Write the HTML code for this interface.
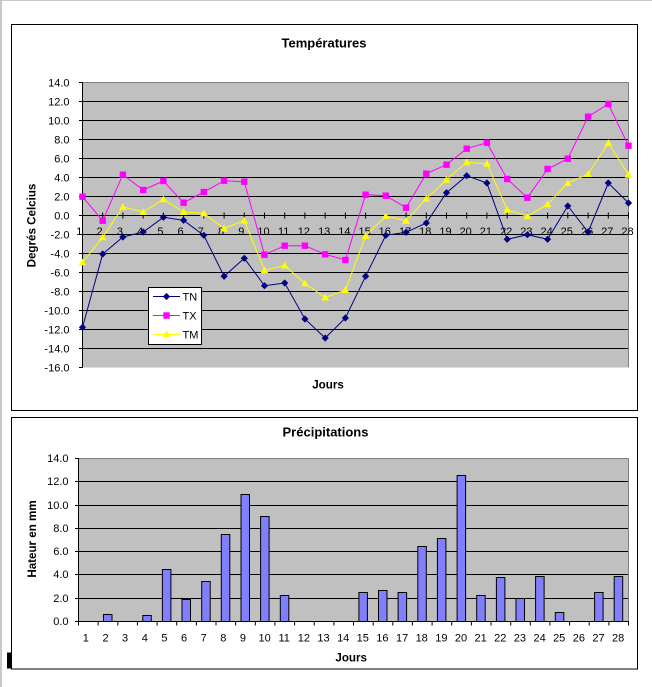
<!DOCTYPE html>
<html><head><meta charset="utf-8"><style>
html,body{margin:0;padding:0;background:#fff;}
svg{display:block;}
text{font-family:"Liberation Sans",Arial,sans-serif;fill:#000;}
</style></head><body>
<svg width="652" height="687" viewBox="0 0 652 687" xmlns="http://www.w3.org/2000/svg">
<defs>
<path id="dia" d="M0,-3.6 L3.6,0 L0,3.6 L-3.6,0Z" fill="#000080"/>
<rect id="sq" x="-3.2" y="-3.2" width="6.4" height="6.4" fill="#FF00FF"/>
<path id="tri" d="M0,-3.8 L3.8,3 L-3.8,3Z" fill="#FFFF00"/>
</defs>
<rect x="0" y="0" width="652" height="687" fill="#fff"/>
<rect x="0" y="0" width="652" height="1" fill="#c8c8c8"/>
<rect x="0" y="0" width="2" height="687" fill="#c8c8c8"/>

<!-- ============ TOP CHART ============ -->
<rect x="11.5" y="24.5" width="626" height="386" fill="#fff" stroke="#000" stroke-width="1"/>
<text x="324" y="47.7" font-size="13" font-weight="bold" text-anchor="middle">Températures</text>
<rect x="82.5" y="82.5" width="546" height="285" fill="#C0C0C0"/>
<g stroke="#000" stroke-width="1">
<line x1="82.5" y1="101.5" x2="628.5" y2="101.5"/>
<line x1="82.5" y1="120.5" x2="628.5" y2="120.5"/>
<line x1="82.5" y1="139.5" x2="628.5" y2="139.5"/>
<line x1="82.5" y1="158.5" x2="628.5" y2="158.5"/>
<line x1="82.5" y1="177.5" x2="628.5" y2="177.5"/>
<line x1="82.5" y1="196.5" x2="628.5" y2="196.5"/>
<line x1="82.5" y1="215.5" x2="628.5" y2="215.5"/>
<line x1="82.5" y1="234.5" x2="628.5" y2="234.5"/>
<line x1="82.5" y1="253.5" x2="628.5" y2="253.5"/>
<line x1="82.5" y1="272.5" x2="628.5" y2="272.5"/>
<line x1="82.5" y1="291.5" x2="628.5" y2="291.5"/>
<line x1="82.5" y1="310.5" x2="628.5" y2="310.5"/>
<line x1="82.5" y1="329.5" x2="628.5" y2="329.5"/>
<line x1="82.5" y1="348.5" x2="628.5" y2="348.5"/>
</g>
<g stroke="#808080" stroke-width="1">
<line x1="82.5" y1="82.5" x2="628.5" y2="82.5"/>
<line x1="628.5" y1="82.5" x2="628.5" y2="367.5"/>
</g>
<g stroke="#000" stroke-width="1">
<line x1="82.5" y1="82" x2="82.5" y2="368"/>
<line x1="79" y1="82.5" x2="82.5" y2="82.5"/>
<line x1="79" y1="101.5" x2="82.5" y2="101.5"/>
<line x1="79" y1="120.5" x2="82.5" y2="120.5"/>
<line x1="79" y1="139.5" x2="82.5" y2="139.5"/>
<line x1="79" y1="158.5" x2="82.5" y2="158.5"/>
<line x1="79" y1="177.5" x2="82.5" y2="177.5"/>
<line x1="79" y1="196.5" x2="82.5" y2="196.5"/>
<line x1="79" y1="215.5" x2="82.5" y2="215.5"/>
<line x1="79" y1="234.5" x2="82.5" y2="234.5"/>
<line x1="79" y1="253.5" x2="82.5" y2="253.5"/>
<line x1="79" y1="272.5" x2="82.5" y2="272.5"/>
<line x1="79" y1="291.5" x2="82.5" y2="291.5"/>
<line x1="79" y1="310.5" x2="82.5" y2="310.5"/>
<line x1="79" y1="329.5" x2="82.5" y2="329.5"/>
<line x1="79" y1="348.5" x2="82.5" y2="348.5"/>
<line x1="79" y1="367.5" x2="82.5" y2="367.5"/>
<path d="M102.7,212.5v6M122.9,212.5v6M143.2,212.5v6M163.4,212.5v6M183.6,212.5v6M203.8,212.5v6M224.1,212.5v6M244.3,212.5v6M264.5,212.5v6M284.7,212.5v6M304.9,212.5v6M325.2,212.5v6M345.4,212.5v6M365.6,212.5v6M385.8,212.5v6M406.1,212.5v6M426.3,212.5v6M446.5,212.5v6M466.7,212.5v6M486.9,212.5v6M507.2,212.5v6M527.4,212.5v6M547.6,212.5v6M567.8,212.5v6M588.1,212.5v6M608.3,212.5v6M628.5,212.5v6"/>
</g>
<g font-size="11" text-anchor="end">
<text x="69.5" y="86.5">14.0</text>
<text x="69.5" y="105.5">12.0</text>
<text x="69.5" y="124.5">10.0</text>
<text x="69.5" y="143.5">8.0</text>
<text x="69.5" y="162.5">6.0</text>
<text x="69.5" y="181.5">4.0</text>
<text x="69.5" y="200.5">2.0</text>
<text x="69.5" y="219.5">0.0</text>
<text x="69.5" y="238.5">-2.0</text>
<text x="69.5" y="257.5">-4.0</text>
<text x="69.5" y="276.5">-6.0</text>
<text x="69.5" y="295.5">-8.0</text>
<text x="69.5" y="314.5">-10.0</text>
<text x="69.5" y="333.5">-12.0</text>
<text x="69.5" y="352.5">-14.0</text>
<text x="69.5" y="371.5">-16.0</text>
</g>
<g font-size="11" text-anchor="middle">
<text x="79.3" y="235">1</text>
<text x="99.5" y="235">2</text>
<text x="119.9" y="235">3</text>
<text x="140.2" y="235">4</text>
<text x="160.4" y="235">5</text>
<text x="180.6" y="235">6</text>
<text x="200.8" y="235">7</text>
<text x="221.1" y="235">8</text>
<text x="241.3" y="235">9</text>
<text x="263.5" y="235">10</text>
<text x="283.7" y="235">11</text>
<text x="303.9" y="235">12</text>
<text x="324.2" y="235">13</text>
<text x="344.4" y="235">14</text>
<text x="364.6" y="235">15</text>
<text x="384.8" y="235">16</text>
<text x="405.1" y="235">17</text>
<text x="425.3" y="235">18</text>
<text x="445.5" y="235">19</text>
<text x="465.7" y="235">20</text>
<text x="485.9" y="235">21</text>
<text x="506.2" y="235">22</text>
<text x="526.4" y="235">23</text>
<text x="546.6" y="235">24</text>
<text x="566.8" y="235">25</text>
<text x="587.1" y="235">26</text>
<text x="607.3" y="235">27</text>
<text x="627.5" y="235">28</text>
</g>

<!-- TN -->
<polyline fill="none" stroke="#000080" stroke-width="1" points="82.5,327.3 102.7,254 122.9,237 143.2,232 163.4,217.3 183.6,220.3 203.8,235.3 224.1,276.3 244.3,258.3 264.5,285.7 284.7,283 304.9,319 325.2,338 345.4,318 365.6,276.3 385.8,235.3 406.1,232.3 426.3,223 446.5,192.7 466.7,175.7 486.9,183 507.2,239.3 527.4,234.7 547.6,239.3 567.8,206 588.1,232 608.3,183 628.5,203"/>
<g>
<use href="#dia" x="82.5" y="327.3"/><use href="#dia" x="102.7" y="254"/><use href="#dia" x="122.9" y="237"/><use href="#dia" x="143.2" y="232"/><use href="#dia" x="163.4" y="217.3"/><use href="#dia" x="183.6" y="220.3"/><use href="#dia" x="203.8" y="235.3"/><use href="#dia" x="224.1" y="276.3"/><use href="#dia" x="244.3" y="258.3"/><use href="#dia" x="264.5" y="285.7"/><use href="#dia" x="284.7" y="283"/><use href="#dia" x="304.9" y="319"/><use href="#dia" x="325.2" y="338"/><use href="#dia" x="345.4" y="318"/><use href="#dia" x="365.6" y="276.3"/><use href="#dia" x="385.8" y="235.3"/><use href="#dia" x="406.1" y="232.3"/><use href="#dia" x="426.3" y="223"/><use href="#dia" x="446.5" y="192.7"/><use href="#dia" x="466.7" y="175.7"/><use href="#dia" x="486.9" y="183"/><use href="#dia" x="507.2" y="239.3"/><use href="#dia" x="527.4" y="234.7"/><use href="#dia" x="547.6" y="239.3"/><use href="#dia" x="567.8" y="206"/><use href="#dia" x="588.1" y="232"/><use href="#dia" x="608.3" y="183"/><use href="#dia" x="628.5" y="203"/>
</g>
<!-- TX -->
<polyline fill="none" stroke="#FF00FF" stroke-width="1" points="82.5,196.7 102.7,220.7 122.9,174.7 143.2,190 163.4,181 183.6,202.7 203.8,192 224.1,180.7 244.3,181.7 264.5,254.7 284.7,245.7 304.9,245.7 325.2,254.3 345.4,260 365.6,194.7 385.8,195.7 406.1,207.7 426.3,173.7 446.5,164.7 466.7,148.7 486.9,142.7 507.2,179 527.4,197.7 547.6,169 567.8,158.7 588.1,116.7 608.3,104 628.5,145.7"/>
<g>
<use href="#sq" x="82.5" y="196.7"/><use href="#sq" x="102.7" y="220.7"/><use href="#sq" x="122.9" y="174.7"/><use href="#sq" x="143.2" y="190"/><use href="#sq" x="163.4" y="181"/><use href="#sq" x="183.6" y="202.7"/><use href="#sq" x="203.8" y="192"/><use href="#sq" x="224.1" y="180.7"/><use href="#sq" x="244.3" y="181.7"/><use href="#sq" x="264.5" y="254.7"/><use href="#sq" x="284.7" y="245.7"/><use href="#sq" x="304.9" y="245.7"/><use href="#sq" x="325.2" y="254.3"/><use href="#sq" x="345.4" y="260"/><use href="#sq" x="365.6" y="194.7"/><use href="#sq" x="385.8" y="195.7"/><use href="#sq" x="406.1" y="207.7"/><use href="#sq" x="426.3" y="173.7"/><use href="#sq" x="446.5" y="164.7"/><use href="#sq" x="466.7" y="148.7"/><use href="#sq" x="486.9" y="142.7"/><use href="#sq" x="507.2" y="179"/><use href="#sq" x="527.4" y="197.7"/><use href="#sq" x="547.6" y="169"/><use href="#sq" x="567.8" y="158.7"/><use href="#sq" x="588.1" y="116.7"/><use href="#sq" x="608.3" y="104"/><use href="#sq" x="628.5" y="145.7"/>
</g>
<!-- TM -->
<polyline fill="none" stroke="#FFFF00" stroke-width="1" points="82.5,262.3 102.7,237.3 122.9,207 143.2,212 163.4,199.3 183.6,212 203.8,213.3 224.1,228.5 244.3,220.5 264.5,270.3 284.7,265.5 304.9,283.3 325.2,297.5 345.4,290 365.6,236 385.8,216 406.1,220.7 426.3,198.7 446.5,179.7 466.7,162.3 486.9,163.7 507.2,209.7 527.4,216.3 547.6,204.3 567.8,183 588.1,174 608.3,143 628.5,174.7"/>
<g>
<use href="#tri" x="82.5" y="262.3"/><use href="#tri" x="102.7" y="237.3"/><use href="#tri" x="122.9" y="207"/><use href="#tri" x="143.2" y="212"/><use href="#tri" x="163.4" y="199.3"/><use href="#tri" x="183.6" y="212"/><use href="#tri" x="203.8" y="213.3"/><use href="#tri" x="224.1" y="228.5"/><use href="#tri" x="244.3" y="220.5"/><use href="#tri" x="264.5" y="270.3"/><use href="#tri" x="284.7" y="265.5"/><use href="#tri" x="304.9" y="283.3"/><use href="#tri" x="325.2" y="297.5"/><use href="#tri" x="345.4" y="290"/><use href="#tri" x="365.6" y="236"/><use href="#tri" x="385.8" y="216"/><use href="#tri" x="406.1" y="220.7"/><use href="#tri" x="426.3" y="198.7"/><use href="#tri" x="446.5" y="179.7"/><use href="#tri" x="466.7" y="162.3"/><use href="#tri" x="486.9" y="163.7"/><use href="#tri" x="507.2" y="209.7"/><use href="#tri" x="527.4" y="216.3"/><use href="#tri" x="547.6" y="204.3"/><use href="#tri" x="567.8" y="183"/><use href="#tri" x="588.1" y="174"/><use href="#tri" x="608.3" y="143"/><use href="#tri" x="628.5" y="174.7"/>
</g>

<!-- legend -->
<rect x="148.5" y="287.5" width="53" height="57" fill="#fff" stroke="#000" stroke-width="1"/>
<line x1="153" y1="296.5" x2="180" y2="296.5" stroke="#000080"/>
<use href="#dia" x="166.5" y="296.5"/>
<line x1="153" y1="315.5" x2="180" y2="315.5" stroke="#FF00FF"/>
<use href="#sq" x="166.5" y="315.5"/>
<line x1="153" y1="334.5" x2="180" y2="334.5" stroke="#FFFF00"/>
<use href="#tri" x="166.5" y="334"/>
<g font-size="11">
<text x="182.5" y="300.5">TN</text>
<text x="182.5" y="319.5">TX</text>
<text x="182.5" y="338.5">TM</text>
</g>

<text transform="translate(35.5,225.5) rotate(-90)" font-size="11.6" font-weight="bold" text-anchor="middle">Degrés Celcius</text>
<text x="328" y="388.5" font-size="11.6" font-weight="bold" text-anchor="middle">Jours</text>

<!-- ============ BOTTOM CHART ============ -->
<rect x="11.5" y="417.5" width="626" height="251.5" fill="#fff" stroke="#000" stroke-width="1"/>
<rect x="7" y="652.5" width="4.5" height="16" fill="#000"/>
<text x="325.5" y="436.5" font-size="13" font-weight="bold" text-anchor="middle">Précipitations</text>
<rect x="78.5" y="458.5" width="550" height="163" fill="#C0C0C0"/>
<g stroke="#000" stroke-width="1">
<line x1="78.5" y1="481.5" x2="628.5" y2="481.5"/>
<line x1="78.5" y1="505.5" x2="628.5" y2="505.5"/>
<line x1="78.5" y1="528.5" x2="628.5" y2="528.5"/>
<line x1="78.5" y1="551.5" x2="628.5" y2="551.5"/>
<line x1="78.5" y1="574.5" x2="628.5" y2="574.5"/>
<line x1="78.5" y1="598.5" x2="628.5" y2="598.5"/>
</g>
<g stroke="#808080" stroke-width="1">
<line x1="78.5" y1="458.5" x2="628.5" y2="458.5"/>
<line x1="628.5" y1="458.5" x2="628.5" y2="621.5"/>
</g>
<!-- bars -->
<g fill="#8080FF" stroke="#000" stroke-width="1">
<rect x="103.5" y="614.5" width="8.5" height="7"/>
<rect x="142.8" y="615.5" width="8.5" height="6"/>
<rect x="162.4" y="569.5" width="8.5" height="52"/>
<rect x="182" y="599.5" width="8.5" height="22"/>
<rect x="201.7" y="581.5" width="8.5" height="40"/>
<rect x="221.3" y="534.5" width="8.5" height="87"/>
<rect x="241" y="494.5" width="8.5" height="127"/>
<rect x="260.6" y="516.5" width="8.5" height="105"/>
<rect x="280.3" y="595.5" width="8.5" height="26"/>
<rect x="358.9" y="592.5" width="8.5" height="29"/>
<rect x="378.5" y="590.5" width="8.5" height="31"/>
<rect x="398.1" y="592.5" width="8.5" height="29"/>
<rect x="417.8" y="546.5" width="8.5" height="75"/>
<rect x="437.4" y="538.5" width="8.5" height="83"/>
<rect x="457.1" y="475.5" width="8.5" height="146"/>
<rect x="476.7" y="595.5" width="8.5" height="26"/>
<rect x="496.4" y="577.5" width="8.5" height="44"/>
<rect x="516" y="598.5" width="8.5" height="23"/>
<rect x="535.6" y="576.5" width="8.5" height="45"/>
<rect x="555.3" y="612.5" width="8.5" height="9"/>
<rect x="594.6" y="592.5" width="8.5" height="29"/>
<rect x="614.2" y="576.5" width="8.5" height="45"/>
</g>
<g stroke="#000" stroke-width="1">
<line x1="78.5" y1="458" x2="78.5" y2="622"/>
<line x1="78" y1="621.5" x2="629" y2="621.5"/>
<line x1="75" y1="458.5" x2="78.5" y2="458.5"/>
<line x1="75" y1="481.5" x2="78.5" y2="481.5"/>
<line x1="75" y1="505.5" x2="78.5" y2="505.5"/>
<line x1="75" y1="528.5" x2="78.5" y2="528.5"/>
<line x1="75" y1="551.5" x2="78.5" y2="551.5"/>
<line x1="75" y1="574.5" x2="78.5" y2="574.5"/>
<line x1="75" y1="598.5" x2="78.5" y2="598.5"/>
<line x1="75" y1="621.5" x2="78.5" y2="621.5"/>
<path d="M78.5,621.5v4M98.1,621.5v4M117.8,621.5v4M137.4,621.5v4M157.1,621.5v4M176.7,621.5v4M196.4,621.5v4M216,621.5v4M235.6,621.5v4M255.3,621.5v4M274.9,621.5v4M294.6,621.5v4M314.2,621.5v4M333.9,621.5v4M353.5,621.5v4M373.2,621.5v4M392.8,621.5v4M412.4,621.5v4M432.1,621.5v4M451.7,621.5v4M471.4,621.5v4M491,621.5v4M510.7,621.5v4M530.3,621.5v4M549.9,621.5v4M569.6,621.5v4M589.2,621.5v4M608.9,621.5v4M628.5,621.5v4"/>
</g>
<g font-size="11" text-anchor="end">
<text x="68.5" y="462.2">14.0</text>
<text x="68.5" y="485.2">12.0</text>
<text x="68.5" y="509.2">10.0</text>
<text x="68.5" y="532.2">8.0</text>
<text x="68.5" y="555.2">6.0</text>
<text x="68.5" y="578.2">4.0</text>
<text x="68.5" y="602.2">2.0</text>
<text x="68.5" y="625.2">0.0</text>
</g>
<g font-size="11" text-anchor="middle">
<text x="85.8" y="641.5">1</text>
<text x="105.5" y="641.5">2</text>
<text x="125.1" y="641.5">3</text>
<text x="144.8" y="641.5">4</text>
<text x="164.4" y="641.5">5</text>
<text x="184" y="641.5">6</text>
<text x="203.7" y="641.5">7</text>
<text x="223.3" y="641.5">8</text>
<text x="242.9" y="641.5">9</text>
<text x="264.6" y="641.5">10</text>
<text x="284.2" y="641.5">11</text>
<text x="303.9" y="641.5">12</text>
<text x="323.5" y="641.5">13</text>
<text x="343.2" y="641.5">14</text>
<text x="362.8" y="641.5">15</text>
<text x="382.4" y="641.5">16</text>
<text x="402.1" y="641.5">17</text>
<text x="421.7" y="641.5">18</text>
<text x="441.4" y="641.5">19</text>
<text x="461" y="641.5">20</text>
<text x="480.6" y="641.5">21</text>
<text x="500.3" y="641.5">22</text>
<text x="519.9" y="641.5">23</text>
<text x="539.6" y="641.5">24</text>
<text x="559.2" y="641.5">25</text>
<text x="578.9" y="641.5">26</text>
<text x="598.5" y="641.5">27</text>
<text x="618.1" y="641.5">28</text>
</g>
<text transform="translate(36,539) rotate(-90)" font-size="11.6" font-weight="bold" text-anchor="middle">Hateur en mm</text>
<text x="351.2" y="661.5" font-size="11.6" font-weight="bold" text-anchor="middle">Jours</text>
</svg>
</body></html>
